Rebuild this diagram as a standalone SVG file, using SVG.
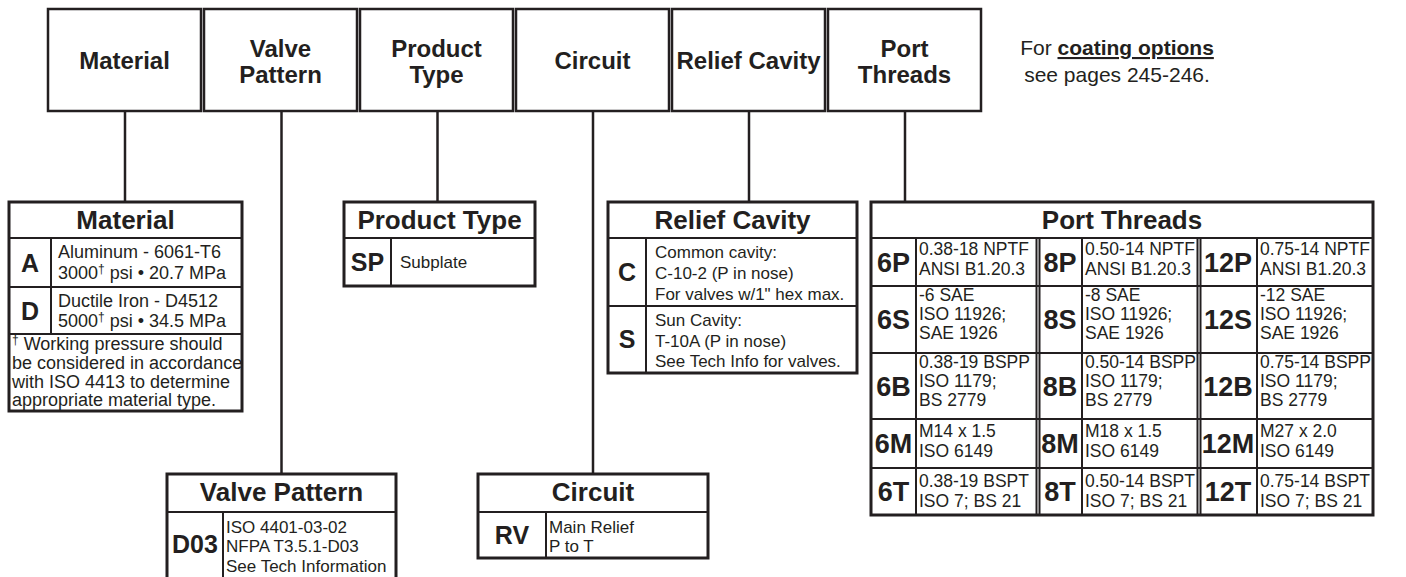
<svg xmlns="http://www.w3.org/2000/svg" width="1406" height="577" viewBox="0 0 1406 577">
<style>
text{font-family:"Liberation Sans",Arial,Helvetica,sans-serif;fill:#231f20}
.box{fill:#fff;stroke:#231f20;stroke-width:2.5}
.tbl{fill:#fff;stroke:#231f20;stroke-width:3}
.ln{stroke:#231f20;stroke-width:2;fill:none}
.conn{stroke:#231f20;stroke-width:2.5;fill:none}
.hd{font-size:24px;font-weight:bold;text-anchor:middle}
.th{font-size:26px;font-weight:bold;text-anchor:middle}
.cd{font-size:25px;font-weight:bold;text-anchor:middle}
.pc{font-size:27px;font-weight:bold;text-anchor:middle}
.ds{font-size:17px}
.dm{font-size:18px}
.dp{font-size:17.5px}
.note{font-size:21px;text-anchor:middle}
.sup{font-size:12px}
</style>
<rect width="1406" height="577" fill="#fff"/>
<g id="connectors">
<line class="conn" x1="125" y1="111" x2="125" y2="202"/>
<line class="conn" x1="281.5" y1="111" x2="281.5" y2="474"/>
<line class="conn" x1="437.5" y1="111" x2="437.5" y2="202"/>
<line class="conn" x1="593" y1="111" x2="593" y2="474"/>
<line class="conn" x1="749" y1="111" x2="749" y2="202"/>
<line class="conn" x1="905" y1="111" x2="905" y2="202"/>
</g>
<g id="header-material"><rect class="box" x="48" y="9" width="153" height="102"/><text class="hd" x="124.5" y="69">Material</text></g>
<g id="header-valve-pattern"><rect class="box" x="204" y="9" width="153" height="102"/><text class="hd" x="280.5" y="57">Valve</text><text class="hd" x="280.5" y="83">Pattern</text></g>
<g id="header-product-type"><rect class="box" x="360" y="9" width="153" height="102"/><text class="hd" x="436.5" y="57">Product</text><text class="hd" x="436.5" y="83">Type</text></g>
<g id="header-circuit"><rect class="box" x="516" y="9" width="153" height="102"/><text class="hd" x="592.5" y="69">Circuit</text></g>
<g id="header-relief-cavity"><rect class="box" x="672" y="9" width="153" height="102"/><text class="hd" x="748.5" y="69">Relief Cavity</text></g>
<g id="header-port-threads"><rect class="box" x="828" y="9" width="153" height="102"/><text class="hd" x="904.5" y="57">Port</text><text class="hd" x="904.5" y="83">Threads</text></g>
<g id="coating-note"><text class="note" x="1117" y="55">For <tspan font-weight="bold" text-decoration="underline">coating options</tspan></text><text class="note" x="1117" y="82">see pages 245-246.</text></g>
<g id="table-material">
<rect class="tbl" x="9" y="202" width="233" height="209"/>
<line class="ln" x1="9" y1="238" x2="242" y2="238"/>
<line class="ln" x1="9" y1="287" x2="242" y2="287"/>
<line class="ln" x1="9" y1="334" x2="242" y2="334"/>
<line class="ln" x1="51" y1="238" x2="51" y2="334"/>
<text class="th" x="125.5" y="229">Material</text>
<text class="cd" x="30" y="272">A</text>
<text class="dm" x="58" y="258">Aluminum - 6061-T6</text>
<text class="dm" x="58" y="279">3000<tspan class="sup" dy="-6">†</tspan><tspan dy="6"> psi • 20.7 MPa</tspan></text>
<text class="cd" x="30" y="320">D</text>
<text class="dm" x="58" y="307">Ductile Iron - D4512</text>
<text class="dm" x="58" y="327">5000<tspan class="sup" dy="-6">†</tspan><tspan dy="6"> psi • 34.5 MPa</tspan></text>
<text class="dm" x="12" y="350"><tspan class="sup" dy="-6">†</tspan><tspan dy="6"> Working pressure should</tspan></text>
<text class="dm" x="12" y="369">be considered in accordance</text>
<text class="dm" x="12" y="388">with ISO 4413 to determine</text>
<text class="dm" x="12" y="406">appropriate material type.</text>
</g>
<g id="table-product-type">
<rect class="tbl" x="344" y="202" width="191" height="84"/>
<line class="ln" x1="344" y1="238" x2="535" y2="238"/>
<line class="ln" x1="391" y1="238" x2="391" y2="286"/>
<text class="th" x="439.5" y="229">Product Type</text>
<text class="cd" x="367.5" y="271">SP</text>
<text class="ds" x="400" y="268" font-size="16">Subplate</text>
</g>
<g id="table-relief-cavity">
<rect class="tbl" x="608" y="202" width="249" height="171"/>
<line class="ln" x1="608" y1="238" x2="857" y2="238"/>
<line class="ln" x1="608" y1="306" x2="857" y2="306"/>
<line class="ln" x1="646" y1="238" x2="646" y2="373"/>
<text class="th" x="732.5" y="229">Relief Cavity</text>
<text class="cd" x="627" y="281">C</text>
<text class="ds" x="655" y="258">Common cavity:</text>
<text class="ds" x="655" y="279">C-10-2  (P in nose)</text>
<text class="ds" x="655" y="300">For valves w/1" hex max.</text>
<text class="cd" x="627" y="348">S</text>
<text class="ds" x="655" y="326">Sun Cavity:</text>
<text class="ds" x="655" y="347">T-10A  (P in nose)</text>
<text class="ds" x="655" y="367">See Tech Info for valves.</text>
</g>
<g id="table-port-threads">
<rect class="tbl" x="871" y="202" width="502" height="313"/>
<line class="ln" x1="871" y1="238" x2="1373" y2="238"/>
<line class="ln" x1="871" y1="286" x2="1373" y2="286"/>
<line class="ln" x1="871" y1="353" x2="1373" y2="353"/>
<line class="ln" x1="871" y1="419" x2="1373" y2="419"/>
<line class="ln" x1="871" y1="468" x2="1373" y2="468"/>
<line class="ln" x1="916" y1="238" x2="916" y2="515"/>
<line class="ln" x1="1082" y1="238" x2="1082" y2="515"/>
<line class="ln" x1="1257" y1="238" x2="1257" y2="515"/>
<line class="ln" x1="1036.5" y1="238" x2="1036.5" y2="515" stroke-width="1.5"/>
<line class="ln" x1="1039.5" y1="238" x2="1039.5" y2="515" stroke-width="1.5"/>
<line class="ln" x1="1197.5" y1="238" x2="1197.5" y2="515" stroke-width="1.5"/>
<line class="ln" x1="1200.5" y1="238" x2="1200.5" y2="515" stroke-width="1.5"/>
<text class="th" x="1122" y="229">Port Threads</text>
<text class="pc" x="893.5" y="272">6P</text>
<text class="dp" x="919" y="255">0.38-18 NPTF</text><text class="dp" x="919" y="275">ANSI B1.20.3</text>
<text class="pc" x="1060" y="272">8P</text>
<text class="dp" x="1085" y="255">0.50-14 NPTF</text><text class="dp" x="1085" y="275">ANSI B1.20.3</text>
<text class="pc" x="1228" y="272">12P</text>
<text class="dp" x="1260" y="255">0.75-14 NPTF</text><text class="dp" x="1260" y="275">ANSI B1.20.3</text>
<text class="pc" x="893.5" y="329">6S</text>
<text class="dp" x="919" y="301">-6 SAE</text><text class="dp" x="919" y="320">ISO 11926;</text><text class="dp" x="919" y="339">SAE 1926</text>
<text class="pc" x="1060" y="329">8S</text>
<text class="dp" x="1085" y="301">-8 SAE</text><text class="dp" x="1085" y="320">ISO 11926;</text><text class="dp" x="1085" y="339">SAE 1926</text>
<text class="pc" x="1228" y="329">12S</text>
<text class="dp" x="1260" y="301">-12 SAE</text><text class="dp" x="1260" y="320">ISO 11926;</text><text class="dp" x="1260" y="339">SAE 1926</text>
<text class="pc" x="893.5" y="396">6B</text>
<text class="dp" x="919" y="368">0.38-19 BSPP</text><text class="dp" x="919" y="387">ISO 1179;</text><text class="dp" x="919" y="406">BS 2779</text>
<text class="pc" x="1060" y="396">8B</text>
<text class="dp" x="1085" y="368">0.50-14 BSPP</text><text class="dp" x="1085" y="387">ISO 1179;</text><text class="dp" x="1085" y="406">BS 2779</text>
<text class="pc" x="1228" y="396">12B</text>
<text class="dp" x="1260" y="368">0.75-14 BSPP</text><text class="dp" x="1260" y="387">ISO 1179;</text><text class="dp" x="1260" y="406">BS 2779</text>
<text class="pc" x="893.5" y="453">6M</text>
<text class="dp" x="919" y="437">M14 x 1.5</text><text class="dp" x="919" y="457">ISO 6149</text>
<text class="pc" x="1060" y="453">8M</text>
<text class="dp" x="1085" y="437">M18 x 1.5</text><text class="dp" x="1085" y="457">ISO 6149</text>
<text class="pc" x="1228" y="453">12M</text>
<text class="dp" x="1260" y="437">M27 x 2.0</text><text class="dp" x="1260" y="457">ISO 6149</text>
<text class="pc" x="893.5" y="501">6T</text>
<text class="dp" x="919" y="487">0.38-19 BSPT</text><text class="dp" x="919" y="507">ISO 7; BS 21</text>
<text class="pc" x="1060" y="501">8T</text>
<text class="dp" x="1085" y="487">0.50-14 BSPT</text><text class="dp" x="1085" y="507">ISO 7; BS 21</text>
<text class="pc" x="1228" y="501">12T</text>
<text class="dp" x="1260" y="487">0.75-14 BSPT</text><text class="dp" x="1260" y="507">ISO 7; BS 21</text>
</g>
<g id="table-valve-pattern">
<rect class="tbl" x="167" y="474" width="229" height="120"/>
<line class="ln" x1="167" y1="512" x2="396" y2="512"/>
<line class="ln" x1="223" y1="512" x2="223" y2="594"/>
<text class="th" x="281.5" y="501">Valve Pattern</text>
<text class="cd" x="195" y="553">D03</text>
<text class="ds" x="226" y="533">ISO 4401-03-02</text>
<text class="ds" x="226" y="552">NFPA T3.5.1-D03</text>
<text class="ds" x="226" y="572">See Tech Information</text>
</g>
<g id="table-circuit">
<rect class="tbl" x="478" y="474" width="230" height="84"/>
<line class="ln" x1="478" y1="512" x2="708" y2="512"/>
<line class="ln" x1="546" y1="512" x2="546" y2="558"/>
<text class="th" x="593" y="501">Circuit</text>
<text class="cd" x="512" y="544">RV</text>
<text class="ds" x="549" y="533">Main Relief</text>
<text class="ds" x="549" y="552">P to T</text>
</g>
</svg>
